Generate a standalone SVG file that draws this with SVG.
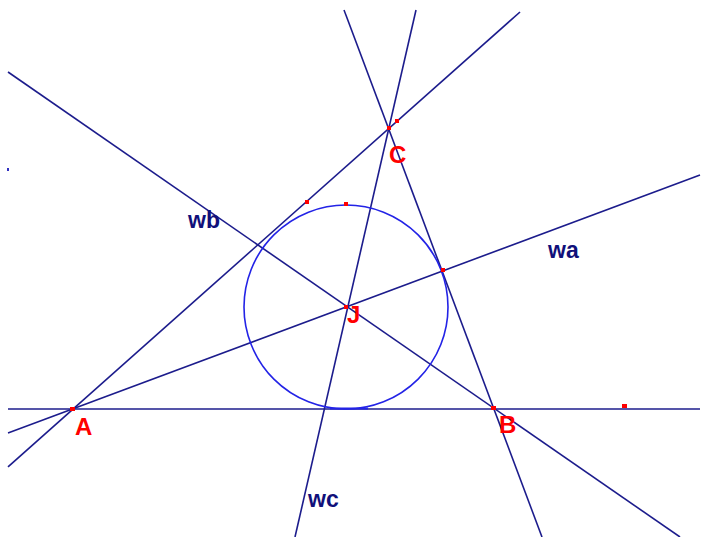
<svg xmlns="http://www.w3.org/2000/svg" width="702" height="537" viewBox="0 0 702 537">
<style>
.ln{stroke:#1c1c8c;stroke-width:1.6;fill:none}
.circ{stroke:#2323e6;stroke-width:1.6;fill:none}
.pt{fill:#ff0000}
.pl{font-family:"Liberation Sans",Arial,sans-serif;font-weight:bold;font-size:24px;fill:#ff0000}
.wl{font-family:"Liberation Sans",Arial,sans-serif;font-weight:bold;font-size:23px;fill:#10107a}
</style>
<rect width="702" height="537" fill="#ffffff"/>
<g id="connectors">
<line class="ln" x1="8" y1="409" x2="700" y2="409"/>
<line class="ln" x1="8" y1="466.8" x2="520" y2="12"/>
<line class="ln" x1="344" y1="10" x2="542" y2="537"/>
<line class="ln" x1="8" y1="433" x2="700" y2="175"/>
<line class="ln" x1="8" y1="72" x2="680" y2="537"/>
<line class="ln" x1="416" y1="10" x2="295" y2="537"/>
<rect x="7" y="168" width="2" height="3" fill="#3030c0"/>
</g>
<g id="incircle">
<circle class="circ" cx="346" cy="307" r="102"/>
<line x1="330" y1="408.5" x2="368" y2="408.5" stroke="#2323e6" stroke-width="2"/>
</g>
<g id="A"><rect class="pt" x="70" y="407" width="5" height="4"/><text class="pl" x="75" y="435">A</text></g>
<g id="B"><rect class="pt" x="491" y="406" width="5" height="4"/><text class="pl" x="499" y="433">B</text></g>
<g id="C"><rect class="pt" x="387" y="126" width="4" height="4"/><text class="pl" x="389" y="163">C</text></g>
<g id="J"><rect class="pt" x="344" y="305" width="4" height="4"/><text class="pl" x="347" y="323">J</text></g>
<g id="points">
<rect class="pt" x="395" y="119" width="4" height="4"/>
<rect class="pt" x="305" y="200" width="4" height="4"/>
<rect class="pt" x="344" y="202" width="4" height="4"/>
<rect class="pt" x="441" y="268" width="4" height="4"/>
<rect class="pt" x="622" y="404" width="5" height="4"/>
</g>
<g id="wa"><text class="wl" x="548" y="258">wa</text></g>
<g id="wb"><text class="wl" x="188" y="228">wb</text></g>
<g id="wc"><text class="wl" x="308" y="507">wc</text></g>
</svg>
